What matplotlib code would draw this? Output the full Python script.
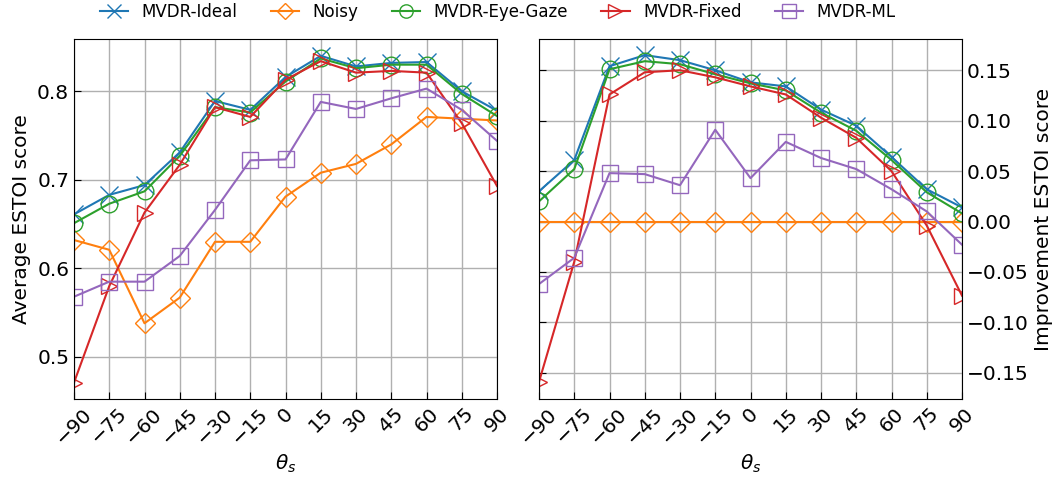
import matplotlib
matplotlib.use("Agg")
import matplotlib.pyplot as plt
import numpy as np

angles = [-90, -75, -60, -45, -30, -15, 0, 15, 30, 45, 60, 75, 90]

# average ESTOI score
avg_ideal = [0.661, 0.683, 0.694, 0.731, 0.789, 0.779, 0.816, 0.840, 0.828, 0.832, 0.833, 0.800, 0.778]
avg_noisy = [0.632, 0.621, 0.538, 0.567, 0.630, 0.630, 0.681, 0.708, 0.718, 0.740, 0.771, 0.769, 0.767]
avg_gaze = [0.651, 0.673, 0.687, 0.727, 0.782, 0.776, 0.811, 0.837, 0.826, 0.830, 0.830, 0.797, 0.772]
avg_fixed = [0.471, 0.580, 0.663, 0.717, 0.782, 0.771, 0.813, 0.834, 0.821, 0.823, 0.821, 0.764, 0.693]
avg_ml = [0.568, 0.585, 0.585, 0.614, 0.666, 0.722, 0.723, 0.788, 0.780, 0.792, 0.803, 0.779, 0.744]

# improvement over noisy
imp_ideal = [0.030, 0.061, 0.154, 0.165, 0.160, 0.150, 0.138, 0.134, 0.111, 0.095, 0.064, 0.032, 0.014]
imp_noisy = [0.0] * 13
imp_gaze = [0.020, 0.052, 0.151, 0.159, 0.156, 0.146, 0.137, 0.130, 0.108, 0.090, 0.061, 0.029, 0.008]
imp_fixed = [-0.159, -0.040, 0.126, 0.148, 0.150, 0.143, 0.134, 0.126, 0.103, 0.083, 0.050, -0.004, -0.0735]
imp_ml = [-0.062, -0.036, 0.048, 0.047, 0.036, 0.091, 0.043, 0.079, 0.063, 0.052, 0.032, 0.010, -0.023]

names = ["MVDR-Ideal", "Noisy", "MVDR-Eye-Gaze", "MVDR-Fixed", "MVDR-ML"]
colors = ["#1f77b4", "#ff7f0e", "#2ca02c", "#d62728", "#9467bd"]
markers = ["x", "D", "o", ">", "s"]
msizes = [13, 10, 12, 12, 12]

fig = plt.figure(figsize=(10.59, 4.83), dpi=100)
ax1 = fig.add_axes([74 / 1059, 1 - 399 / 483, 423 / 1059, 360 / 483])
ax2 = fig.add_axes([539 / 1059, 1 - 399 / 483, 423 / 1059, 360 / 483])

avg = [avg_ideal, avg_noisy, avg_gaze, avg_fixed, avg_ml]
imp = [imp_ideal, imp_noisy, imp_gaze, imp_fixed, imp_ml]

for ax, series in [(ax1, avg), (ax2, imp)]:
    for vals, name, c, m, ms in zip(series, names, colors, markers, msizes):
        ax.plot(angles, vals, color=c, marker=m, markersize=ms, markerfacecolor="none",
                markeredgewidth=1.0, linewidth=1.5, label=name)
    ax.set_xlim(-90, 90)
    ax.set_xticks(angles)
    ax.set_xticklabels([str(a).replace("-", "\u2212") for a in angles], rotation=45,
                       ha="center", va="top", fontsize=14.5)
    ax.grid(True, color="#b0b0b0", linewidth=1.0)
    ax.set_xlabel(r"$\theta_s$", fontsize=14.5)
    ax.tick_params(direction="in", labelsize=14.5, length=5)

ax1.set_ylim(0.4525, 0.859)
ax1.set_yticks([0.5, 0.6, 0.7, 0.8])
ax1.set_ylabel("Average ESTOI score", fontsize=14.5)

ax2.set_ylim(-0.176, 0.181)
ax2.set_yticks([-0.15, -0.10, -0.05, 0.0, 0.05, 0.10, 0.15])
ax2.set_yticklabels(["\u22120.15", "\u22120.10", "\u22120.05", "0.00", "0.05", "0.10", "0.15"])
ax2.yaxis.tick_right()
ax2.yaxis.set_label_position("right")
ax2.tick_params(axis="y", left=True, right=False, labelleft=False, labelright=True, direction="in")
ax2.set_ylabel("Improvement ESTOI score", fontsize=14.5)

handles, labels = ax1.get_legend_handles_labels()
fig.legend(handles, labels, loc="upper center", bbox_to_anchor=(0.47, 1.025), ncol=5,
           frameon=False, fontsize=12, handlelength=1.7, markerscale=0.8, columnspacing=2.0)

fig.savefig("out.png", dpi=100)
